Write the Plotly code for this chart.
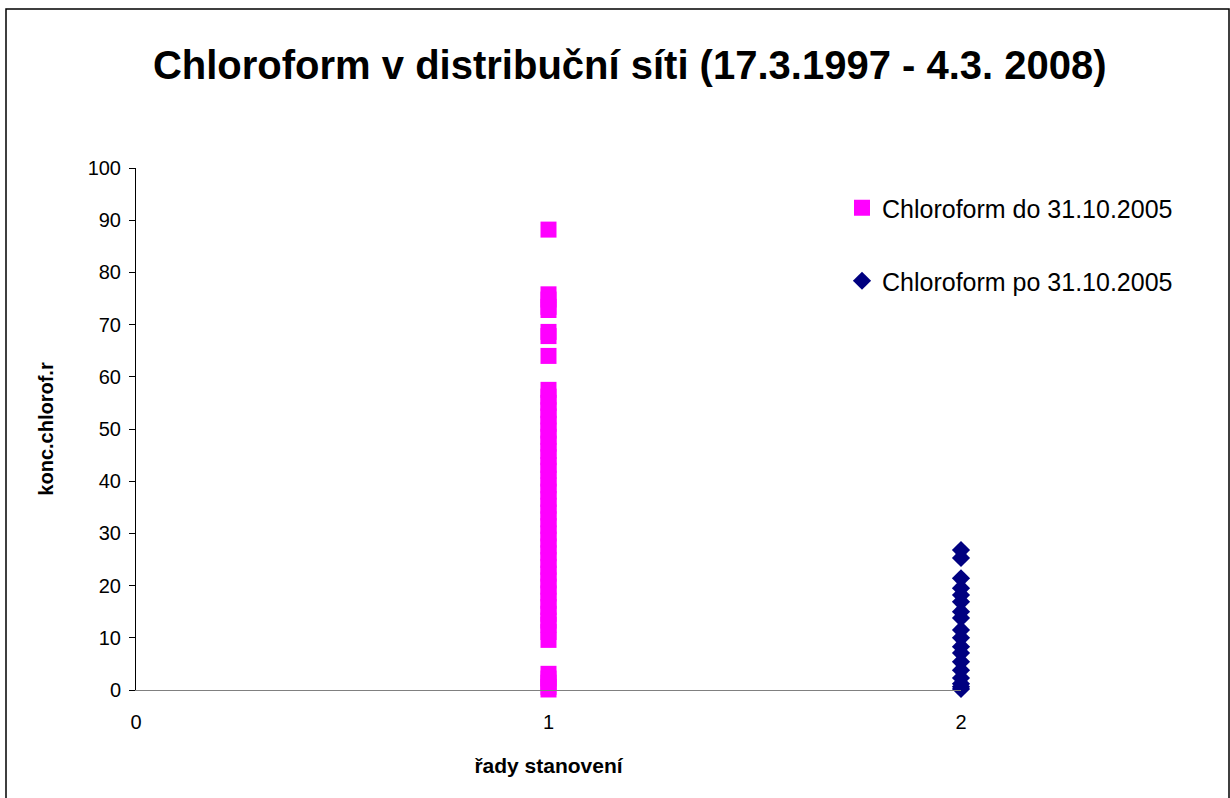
import plotly.graph_objects as go

title_text = "Chloroform v distribuční síti (17.3.1997 - 4.3. 2008)"
x_title = "řady stanovení"
y_title = "konc.chlorof.r"
series1_name = "Chloroform do 31.10.2005"
series2_name = "Chloroform po 31.10.2005"

series1_x = 1
series1_values = [88.2, 75.8, 74.8, 73.4, 72.8, 68.6, 67.8, 64.0, 57.5, 56.2, 55.0, 53.6,
                  52.4, 51.0, 49.7, 48.5, 47.2, 45.8, 44.6, 43.1, 42.0, 40.5, 39.2, 38.0,
                  36.6, 35.3, 34.0, 32.7, 31.4, 30.0, 28.8, 27.5, 26.2, 24.9, 23.6, 22.3,
                  21.0, 19.8, 18.5, 17.1, 15.9, 14.6, 13.3, 12.5, 11.1, 9.6, 3.1, 2.2,
                  1.4, 0.6, 0.1]
series2_x = 2
series2_values = [26.8, 25.3, 21.4, 19.5, 18.2, 16.9, 15.0, 13.8, 11.5, 10.0, 8.3, 7.1,
                  5.4, 3.8, 2.3, 1.2, 0.6, 0.2]

x_ticks = [0, 1, 2]
y_ticks = [0, 10, 20, 30, 40, 50, 60, 70, 80, 90, 100]

FONT = "Liberation Sans, Arial, sans-serif"

fig = go.Figure()
fig.add_trace(go.Scatter(
    x=[series1_x] * len(series1_values), y=series1_values, mode="markers",
    name=series1_name, legend="legend", cliponaxis=False,
    marker=dict(symbol="square", size=16, color="#FF00FF", line=dict(width=0)),
))
fig.add_trace(go.Scatter(
    x=[series2_x] * len(series2_values), y=series2_values, mode="markers",
    name=series2_name, legend="legend2", cliponaxis=False,
    marker=dict(symbol="diamond", size=14, color="#000080", line=dict(width=0)),
))

fig.update_layout(
    width=1230, height=798,
    paper_bgcolor="white", plot_bgcolor="white",
    margin=dict(l=136, r=269, t=168, b=108),
    font=dict(family=FONT, color="black", size=20),
    title=dict(text="<b>" + title_text + "</b>", x=0.512, xanchor="center",
               y=0.9185, yanchor="middle",
               font=dict(family=FONT, size=40, color="black")),
    xaxis=dict(range=[0, 2], tickvals=x_ticks, ticks="", showgrid=False, zeroline=False,
               showline=True, linecolor="#808080", linewidth=1,
               tickfont=dict(size=20), ticklabelstandoff=14,
               title=dict(text="<b>" + x_title + "</b>", font=dict(size=21), standoff=26)),
    yaxis=dict(range=[0, 100], tickvals=y_ticks, ticks="outside", ticklen=6,
               tickcolor="black", showgrid=False, zeroline=False,
               showline=True, linecolor="black", linewidth=1,
               tickfont=dict(size=20), ticklabelstandoff=4,
               title=dict(text="<b>" + y_title + "</b>", font=dict(size=20), standoff=28)),
    legend=dict(x=(842 - 136) / 825, y=1 - (208 - 168) / 522, xanchor="left", yanchor="middle",
                bgcolor="rgba(0,0,0,0)", font=dict(size=25), itemwidth=30),
    legend2=dict(x=(842 - 136) / 825, y=1 - (281 - 168) / 522, xanchor="left", yanchor="middle",
                 bgcolor="rgba(0,0,0,0)", font=dict(size=25), itemwidth=30),
    showlegend=True,
)

fig.add_shape(type="rect", xref="paper", yref="paper",
              x0=(6 - 136) / 825, x1=(1229 - 136) / 825,
              y0=-(805 - 690) / 522, y1=1 + (168 - 9) / 522,
              line=dict(color="black", width=1.5), fillcolor="rgba(0,0,0,0)", layer="below")

fig.write_html("out.html", config={"displayModeBar": False},
               post_script="document.body.style.margin='0';document.body.style.overflow='hidden';")
